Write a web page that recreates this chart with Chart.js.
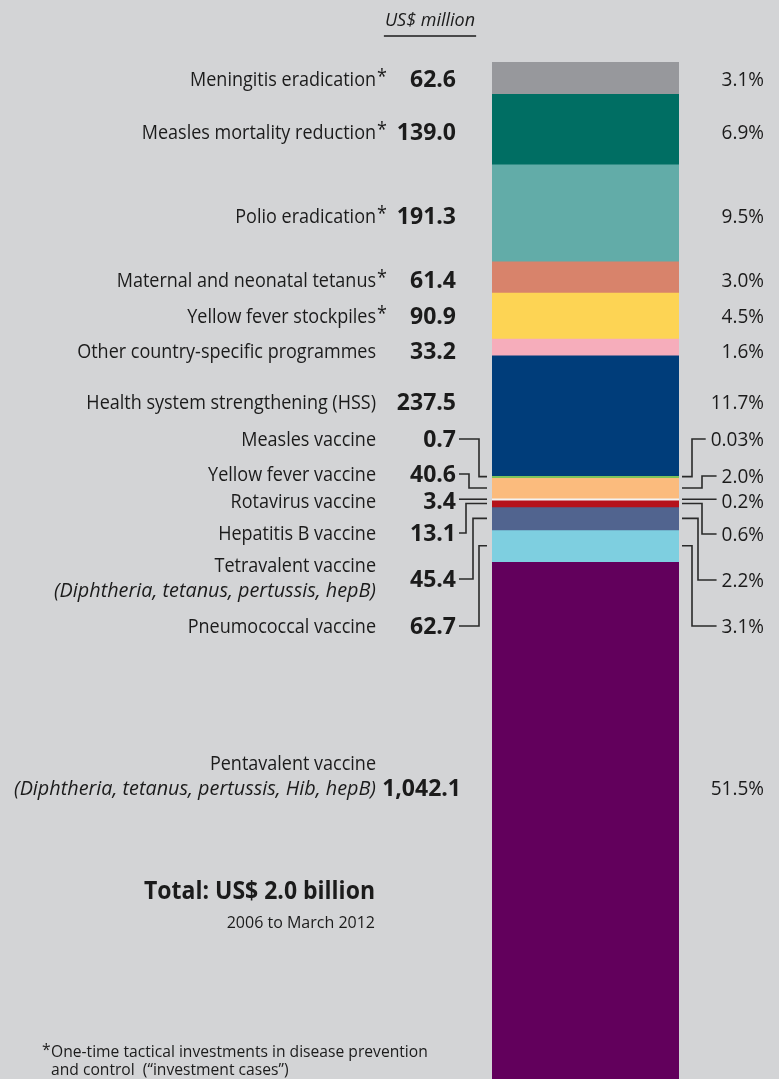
<!DOCTYPE html>
<html>
<head>
<meta charset="utf-8">
<script src="https://cdn.jsdelivr.net/npm/chart.js@4/dist/chart.umd.min.js"></script>
<style>
  html, body { margin: 0; padding: 0; background: #d3d4d6; }
  #wrap { width: 779px; height: 1079px; position: relative; }
</style>
</head>
<body>
<div id="wrap"><canvas id="c" width="779" height="1079"></canvas></div>
<script>
// ---------- data ----------
const categories = [
  'Meningitis eradication*',
  'Measles mortality reduction*',
  'Polio eradication*',
  'Maternal and neonatal tetanus*',
  'Yellow fever stockpiles*',
  'Other country-specific programmes',
  'Health system strengthening (HSS)',
  'Measles vaccine',
  'Yellow fever vaccine',
  'Rotavirus vaccine',
  'Hepatitis B vaccine',
  'Tetravalent vaccine',
  'Pneumococcal vaccine',
  'Pentavalent vaccine'
];
const subtitles = ['', '', '', '', '', '', '', '', '', '', '',
  '(Diphtheria, tetanus, pertussis, hepB)', '',
  '(Diphtheria, tetanus, pertussis, Hib, hepB)'];
const values = [62.6, 139.0, 191.3, 61.4, 90.9, 33.2, 237.5, 0.7, 40.6, 3.4, 13.1, 45.4, 62.7, 1042.1];
const valueLabels = ['62.6', '139.0', '191.3', '61.4', '90.9', '33.2', '237.5', '0.7', '40.6', '3.4', '13.1', '45.4', '62.7', '1,042.1'];
const shares = ['3.1%', '6.9%', '9.5%', '3.0%', '4.5%', '1.6%', '11.7%', '0.03%', '2.0%', '0.2%', '0.6%', '2.2%', '3.1%', '51.5%'];
const colors = ['#97989c', '#006e63', '#62aca8', '#d8836b', '#fdd454', '#f6adbb', '#003d7a',
  '#7dc35a', '#fbbb7d', '#f2f2f2', '#b5121b', '#51648f', '#7ecfe0', '#62005c'];

// ---------- layout (label placement, pixels) ----------
const nameY  = [79, 132, 216, 280, 316, 351, 402, 439, 474, 501, 533, 565, 626, 763];
const valueY = [79, 132, 216, 280, 316, 351, 402, 439, 474, 501, 533, 579, 626, 788];
const valueX = [456, 456, 456, 456, 456, 456, 456, 456, 456, 456, 456, 456, 456, 461];
const pctY   = [79, 132, 216, 280, 316, 351, 402, 439, 476, 501, 534, 580, 626, 788];
const leftElbowX  = [null, null, null, null, null, null, null, 479, 469, 0, 466, 473, 479, null];
const rightElbowX = [null, null, null, null, null, null, null, 692, 702, 0, 702, 698, 692, null];

const FONT = '"Open Sans", "Noto Sans", sans-serif';
const INK = '#1b1b1b';

function txt(ctx, s, x, y, o) {
  const size = o.size, sx = o.sx || 1;
  ctx.font = (o.style || 'normal') + ' ' + (o.weight || 'normal') + ' ' + size + 'px ' + FONT;
  const w = ctx.measureText(s).width * sx;
  let x0 = x;
  if (o.align === 'right') x0 = x - w;
  else if (o.align === 'center') x0 = x - w / 2;
  ctx.save();
  ctx.fillStyle = o.color || INK;
  ctx.translate(x0, y + size * 0.36);
  ctx.scale(sx, 1);
  ctx.textAlign = 'left';
  ctx.textBaseline = 'alphabetic';
  ctx.fillText(s, 0, 0);
  ctx.restore();
  return w;
}

const LBL = { size: 20, sx: 0.9 };
const ITL = { size: 20, sx: 0.99, style: 'italic' };
const VAL = { size: 23, weight: 'bold', sx: 1.0 };
const PCT = { size: 20, sx: 0.95 };

const bgPlugin = {
  id: 'bg',
  beforeDraw(chart) {
    const c = chart.ctx;
    c.save();
    c.fillStyle = '#d3d4d6';
    c.fillRect(0, 0, chart.width, chart.height);
    c.restore();
  }
};

const labelPlugin = {
  id: 'labels',
  afterDraw(chart) {
    const c = chart.ctx;
    const area = chart.chartArea;
    const nameRight = 376, pctRight = 764;
    const barL = area.left, barR = area.right;
    c.save();
    // title
    const tw = txt(c, 'US$ million', 430, 20, { size: 18, style: 'italic', align: 'center', sx: 1.0 });
    c.strokeStyle = INK; c.lineWidth = 1.3;
    c.beginPath(); c.moveTo(430 - tw / 2 - 1, 36); c.lineTo(430 + tw / 2 + 1, 36); c.stroke();

    categories.forEach((name, i) => {
      const el = chart.getDatasetMeta(i).data[0];
      const mid = (el.y + el.base) / 2;
      // name
      if (name.endsWith('*')) {
        txt(c, name.slice(0, -1), nameRight, nameY[i], Object.assign({ align: 'right' }, LBL));
        txt(c, '*', nameRight + 1, nameY[i] - 3, Object.assign({ align: 'left' }, LBL));
      } else {
        txt(c, name, nameRight, nameY[i], Object.assign({ align: 'right' }, LBL));
      }
      if (subtitles[i]) {
        txt(c, subtitles[i], nameRight, nameY[i] + 25, Object.assign({ align: 'right' }, ITL));
      }
      // value
      txt(c, valueLabels[i], valueX[i], valueY[i], Object.assign({ align: 'right' }, VAL));
      // share
      const pw = txt(c, shares[i], pctRight, pctY[i], Object.assign({ align: 'right' }, PCT));

      // connectors
      c.strokeStyle = '#2a2a2a';
      c.lineWidth = 1.6;
      c.lineJoin = 'miter';
      if (leftElbowX[i] !== null) {
        const lx0 = valueX[i] + 3, lx1 = barL - 5;
        const rx0 = barR + 3, rx1 = pctRight - pw - 5;
        c.beginPath();
        if (leftElbowX[i] === 0) {
          c.moveTo(lx0, mid); c.lineTo(lx1, mid);
        } else {
          c.moveTo(lx0, valueY[i]); c.lineTo(leftElbowX[i], valueY[i]);
          c.lineTo(leftElbowX[i], mid); c.lineTo(lx1, mid);
        }
        c.stroke();
        c.beginPath();
        if (rightElbowX[i] === 0) {
          c.moveTo(rx0, mid); c.lineTo(rx1, mid);
        } else {
          c.moveTo(rx0, mid); c.lineTo(rightElbowX[i], mid);
          c.lineTo(rightElbowX[i], pctY[i]); c.lineTo(rx1, pctY[i]);
        }
        c.stroke();
      }
    });

    // total
    txt(c, 'Total: US$ 2.0 billion', 375, 890, { size: 25, weight: 'bold', align: 'right', sx: 0.92 });
    txt(c, '2006 to March 2012', 375, 922, { size: 16, align: 'right', sx: 1.0 });
    // footnote
    txt(c, '*', 42, 1049, { size: 17, sx: 0.92 });
    txt(c, 'One-time tactical investments in disease prevention', 51, 1051, { size: 17, sx: 0.92 });
    txt(c, 'and control  (\u201Cinvestment cases\u201D)', 51, 1069, { size: 17, sx: 0.92 });
    c.restore();
  }
};

new Chart(document.getElementById('c'), {
  type: 'bar',
  data: {
    labels: ['GAVI'],
    datasets: values.map((v, i) => ({
      label: categories[i],
      data: [v],
      backgroundColor: colors[i],
      borderWidth: 0,
      minBarLength: 2,
      barPercentage: 1,
      categoryPercentage: 1
    }))
  },
  options: {
    responsive: false,
    animation: false,
    devicePixelRatio: 1,
    layout: { padding: { left: 492, right: 100, top: 62, bottom: 0 } },
    scales: {
      x: { stacked: true, display: false },
      y: { stacked: true, display: false, reverse: true, min: 0, max: 2006 }
    },
    plugins: { legend: { display: false }, tooltip: { enabled: false } }
  },
  plugins: [bgPlugin, labelPlugin]
});
</script>
</body>
</html>
